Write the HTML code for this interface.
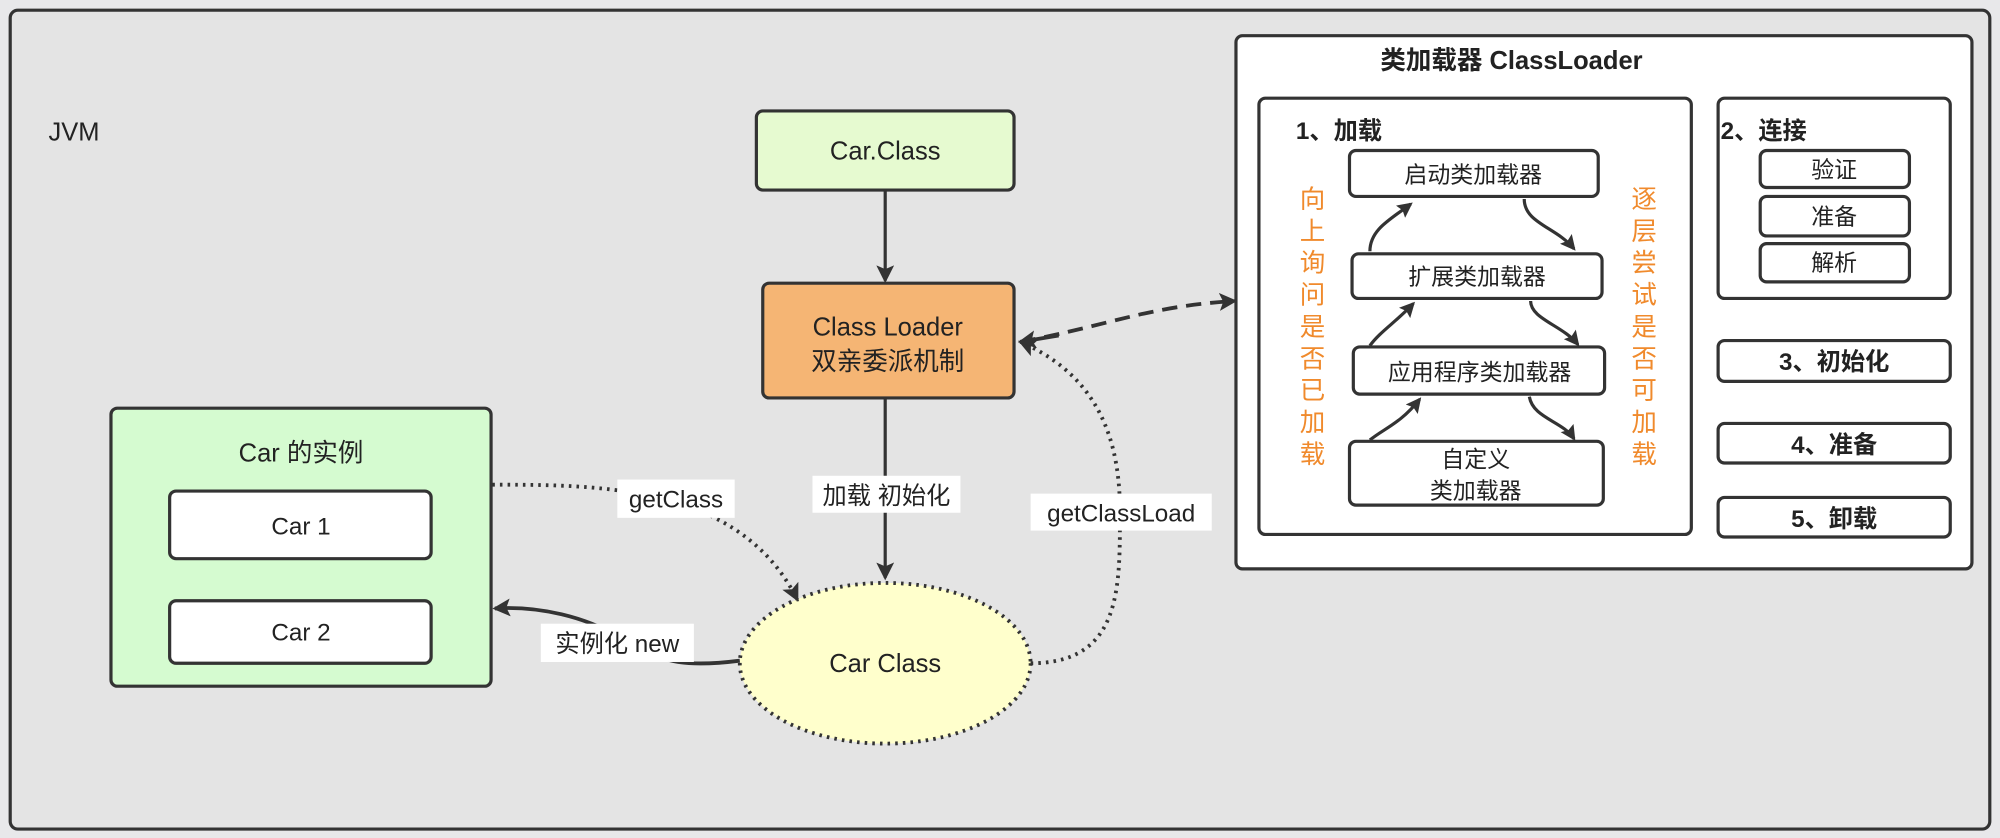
<!DOCTYPE html>
<html><head><meta charset="utf-8"><style>
html,body{margin:0;padding:0;background:#e6e6e8;}
svg{display:block}
text{font-family:"Liberation Sans","Noto Sans CJK SC",sans-serif;fill:#222;}
</style></head><body>
<svg width="2000" height="838" viewBox="0 0 1568 657" preserveAspectRatio="none" xmlns="http://www.w3.org/2000/svg">
<defs>
<marker id="a" markerWidth="12" markerHeight="12" refX="10" refY="6" orient="auto" markerUnits="userSpaceOnUse" viewBox="0 0 12 12"><path d="M0,0 L12,6 L0,12 L2,6 z" fill="#333"/></marker>
<marker id="as" markerWidth="14" markerHeight="14" refX="12" refY="7" orient="auto" markerUnits="userSpaceOnUse" viewBox="0 0 14 14"><path d="M0,0 L14,7 L0,14 L3,7 z" fill="#333"/></marker>
</defs>
<rect x="0" y="0" width="1568" height="657" fill="#e8e8ea"/>
<rect x="8" y="8" width="1552" height="642" rx="6" fill="#e4e4e4" stroke="#333" stroke-width="2.5"/>
<text x="38" y="110" font-size="20">JVM</text>

<rect x="593" y="87" width="202" height="62" rx="5" fill="#e6fad0" stroke="#333" stroke-width="2.5"/>
<text x="694" y="125" font-size="20" text-anchor="middle">Car.Class</text>
<line x1="694" y1="149" x2="694" y2="220" stroke="#333" stroke-width="2.5" marker-end="url(#as)"/>

<rect x="598" y="222" width="197" height="90" rx="5" fill="#f5b574" stroke="#333" stroke-width="2.5"/>
<text x="696" y="263" font-size="20" text-anchor="middle">Class Loader</text>
<text x="696" y="290" font-size="20" text-anchor="middle">双亲委派机制</text>
<line x1="694" y1="312" x2="694" y2="453" stroke="#333" stroke-width="2.5" marker-end="url(#as)"/>
<rect x="637" y="373" width="116" height="29" fill="#fff"/>
<text x="695" y="395" font-size="19" text-anchor="middle">加载 初始化</text>

<ellipse cx="694" cy="520" rx="114" ry="63" fill="#ffffcc" stroke="#333" stroke-width="3" stroke-dasharray="2 4"/>
<text x="694" y="527" font-size="20" text-anchor="middle">Car Class</text>

<rect x="87" y="320" width="298" height="218" rx="5" fill="#d5fbd0" stroke="#333" stroke-width="2.5"/>
<text x="236" y="362" font-size="20" text-anchor="middle">Car 的实例</text>
<rect x="133" y="385" width="205" height="53" rx="5" fill="#fff" stroke="#333" stroke-width="2.5"/>
<text x="236" y="419" font-size="19" text-anchor="middle">Car 1</text>
<rect x="133" y="471" width="205" height="49" rx="5" fill="#fff" stroke="#333" stroke-width="2.5"/>
<text x="236" y="502" font-size="19" text-anchor="middle">Car 2</text>

<path d="M386,380 C470,380 580,380 625,470" fill="none" stroke="#333" stroke-width="3" stroke-dasharray="2 4" marker-end="url(#as)"/>
<rect x="484" y="376" width="92" height="30" fill="#fff"/>
<text x="530" y="398" font-size="19" text-anchor="middle">getClass</text>

<path d="M580,518 C540,523 520,520 495,505 C460,482 420,475 388,477" fill="none" stroke="#333" stroke-width="3" marker-end="url(#as)"/>
<rect x="424" y="489" width="120" height="30" fill="#fff"/>
<text x="484" y="511" font-size="19" text-anchor="middle">实例化 new</text>

<path d="M808,520 C880,520 878,460 878,400 C878,330 850,290 800,268" fill="none" stroke="#333" stroke-width="3" stroke-dasharray="2 4" marker-end="url(#as)"/>
<rect x="808" y="387" width="142" height="29" fill="#fff"/>
<text x="879" y="409" font-size="19" text-anchor="middle">getClassLoad</text>

<path d="M800,268 C870,255 900,240 968,236" fill="none" stroke="#333" stroke-width="3" stroke-dasharray="12 7" marker-end="url(#as)"/>
<path d="M830,263 L800,268" stroke="#333" stroke-width="3" marker-end="url(#as)"/>

<rect x="969" y="28" width="577" height="418" rx="5" fill="#fff" stroke="#333" stroke-width="2.5"/>
<text x="1185" y="54" font-size="20" font-weight="bold" text-anchor="middle">类加载器 ClassLoader</text>
<rect x="987" y="77" width="339" height="342" rx="5" fill="#fff" stroke="#333" stroke-width="2.5"/>
<text x="1016" y="109" font-size="19" font-weight="bold">1、加载</text>

<g stroke="#333" stroke-width="2.5" fill="#fff">
<rect x="1058" y="118" width="195" height="36" rx="5"/>
<rect x="1060" y="199" width="196" height="35" rx="5"/>
<rect x="1061" y="272" width="197" height="37" rx="5"/>
<rect x="1058" y="346" width="199" height="50" rx="5"/>
</g>
<g font-size="18" text-anchor="middle">
<text x="1155" y="143">启动类加载器</text>
<text x="1158" y="223">扩展类加载器</text>
<text x="1160" y="298">应用程序类加载器</text>
<text x="1157" y="366">自定义</text>
<text x="1157" y="391">类加载器</text>
</g>
<g fill="none" stroke="#333" stroke-width="2.5">
<path d="M1074,197 C1074,180 1090,172 1106,160" marker-end="url(#a)"/>
<path d="M1074,271 C1082,260 1095,252 1108,238" marker-end="url(#a)"/>
<path d="M1074,345 C1085,336 1098,332 1113,313" marker-end="url(#a)"/>
<path d="M1195,156 C1195,175 1220,178 1234,195" marker-end="url(#a)"/>
<path d="M1200,236 C1200,250 1225,255 1237,270" marker-end="url(#a)"/>
<path d="M1199,311 C1202,328 1225,330 1234,344" marker-end="url(#a)"/>
</g>
<g font-size="20" text-anchor="middle">
<text x="1029" y="163" style="fill:#f08a2c">向</text>
<text x="1029" y="188" style="fill:#f08a2c">上</text>
<text x="1029" y="213" style="fill:#f08a2c">询</text>
<text x="1029" y="238" style="fill:#f08a2c">问</text>
<text x="1029" y="263" style="fill:#f08a2c">是</text>
<text x="1029" y="288" style="fill:#f08a2c">否</text>
<text x="1029" y="313" style="fill:#f08a2c">已</text>
<text x="1029" y="338" style="fill:#f08a2c">加</text>
<text x="1029" y="363" style="fill:#f08a2c">载</text>
<text x="1289" y="163" style="fill:#f08a2c">逐</text>
<text x="1289" y="188" style="fill:#f08a2c">层</text>
<text x="1289" y="213" style="fill:#f08a2c">尝</text>
<text x="1289" y="238" style="fill:#f08a2c">试</text>
<text x="1289" y="263" style="fill:#f08a2c">是</text>
<text x="1289" y="288" style="fill:#f08a2c">否</text>
<text x="1289" y="313" style="fill:#f08a2c">可</text>
<text x="1289" y="338" style="fill:#f08a2c">加</text>
<text x="1289" y="363" style="fill:#f08a2c">载</text>
</g>

<rect x="1347" y="77" width="182" height="157" rx="5" fill="#fff" stroke="#333" stroke-width="2.5"/>
<text x="1349" y="109" font-size="19" font-weight="bold">2、连接</text>
<g stroke="#333" stroke-width="2.5" fill="#fff">
<rect x="1380" y="118" width="117" height="29" rx="5"/>
<rect x="1380" y="154" width="117" height="31" rx="5"/>
<rect x="1380" y="191" width="117" height="30" rx="5"/>
<rect x="1347" y="267" width="182" height="32" rx="5"/>
<rect x="1347" y="332" width="182" height="31" rx="5"/>
<rect x="1347" y="390" width="182" height="31" rx="5"/>
</g>
<g font-size="18" text-anchor="middle">
<text x="1438" y="139">验证</text>
<text x="1438" y="176">准备</text>
<text x="1438" y="212">解析</text>
</g>
<g font-size="19" font-weight="bold" text-anchor="middle">
<text x="1438" y="290">3、初始化</text>
<text x="1438" y="355">4、准备</text>
<text x="1438" y="413">5、卸载</text>
</g>
</svg>
</body></html>
